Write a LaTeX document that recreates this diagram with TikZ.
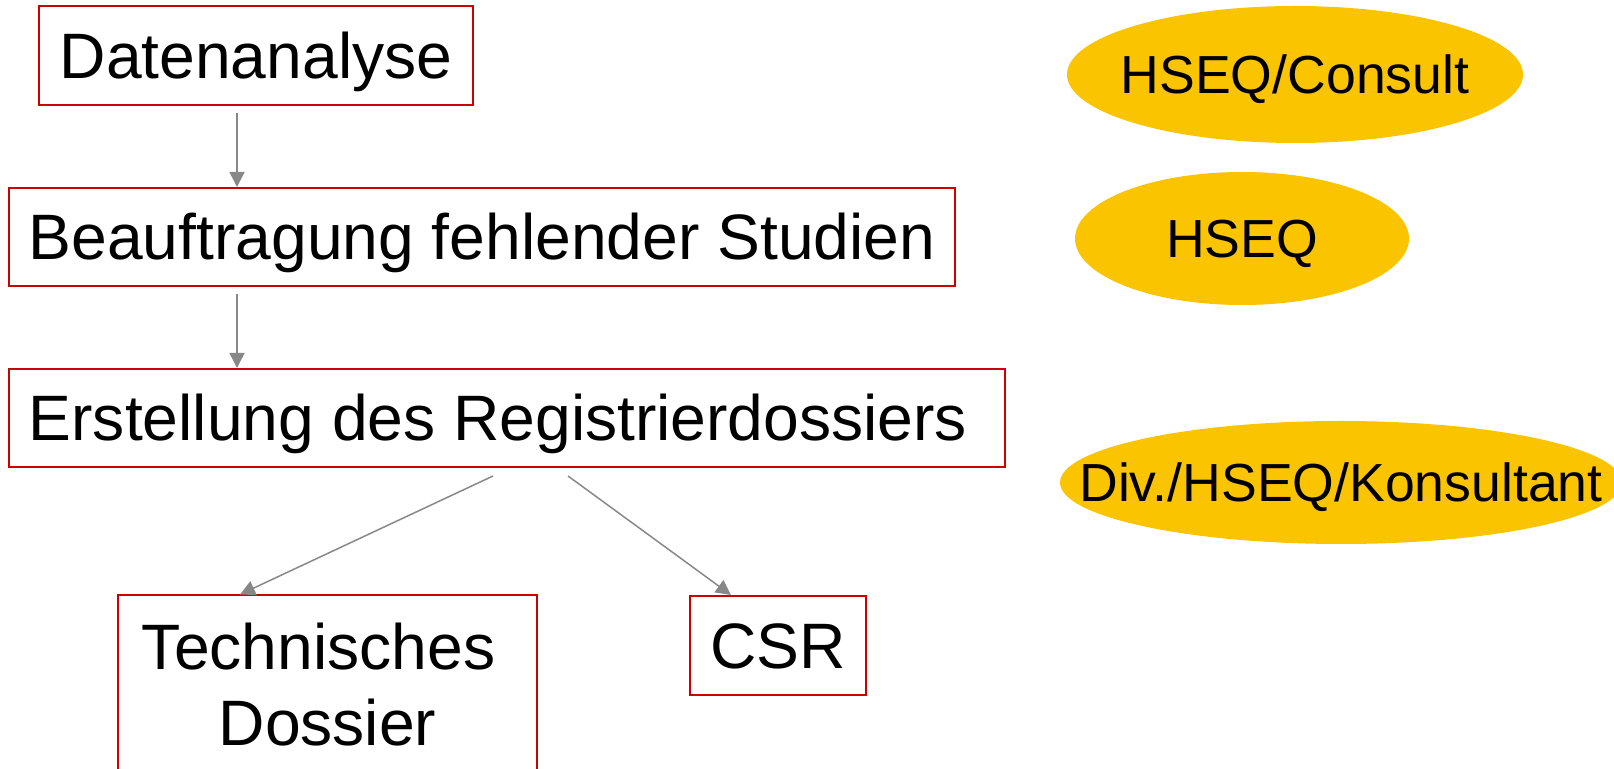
\documentclass[tikz,border=0pt]{standalone}
\usepackage{fontspec}
\setmainfont{Liberation Sans}
\usetikzlibrary{shapes.geometric,arrows.meta,calc}

\definecolor{kastenrot}{RGB}{204,0,0}
\definecolor{rollengelb}{RGB}{251,196,0}
\definecolor{pfeilgrau}{RGB}{136,136,136}

% Text ohne eigene Breite (Ellipse bleibt so gross wie angegeben)
\newcommand{\ohnebreite}[1]{\makebox[0pt][c]{#1}}

\tikzset{
  kasten/.style={draw=kastenrot, line width=1pt, inner sep=0pt,
    font=\fontsize{32.1pt}{38pt}\selectfont},
  zeile/.style={text height=23pt, text depth=0pt},
  rolle/.style={ellipse, fill=rollengelb, inner sep=0pt,
    text height=19.2pt, text depth=0pt,
    font=\fontsize{26.8pt}{32pt}\selectfont},
  pfeil/.style={draw=pfeilgrau, line width=0.75pt,
    -{Triangle[length=7.5pt,width=7.5pt]}}
}

\begin{document}
\begin{tikzpicture}[x=0.5pt,y=-0.5pt]
  \useasboundingbox (0,0) rectangle (1614,769);

  % Ablauf
  \node[kasten,zeile,minimum width=217pt,minimum height=49.5pt] (daten) at (256,55.5) {Datenanalyse};
  \node[kasten,zeile,minimum width=473pt,minimum height=49pt] (beauf) at (482,237) {Beauftragung fehlender Studien};
  \node[kasten,zeile,minimum width=498pt,minimum height=49pt] (erst) at (507,418) {Erstellung des Registrierdossiers\kern9pt};
  \node[kasten,align=center,minimum width=209.5pt,minimum height=89.5pt] (tech) at (327.5,685) {Technisches\kern0.278em\\Dossier};
  \node[kasten,zeile,minimum width=88pt,minimum height=49.5pt] (csr) at (778,645.5) {CSR};

  % Pfeile
  \draw[pfeil] ($(daten.south)+(-19,7)$) coordinate (a1) -- (a1 |- beauf.north);
  \draw[pfeil] ($(beauf.south)+(-245,7)$) coordinate (a2) -- (a2 |- erst.north);
  \draw[pfeil] ($(erst.south)+(-14,8)$) -- ($(tech.north)+(-87.5,0)$);
  \draw[pfeil] ($(erst.south)+(61,8)$) -- ($(csr.north)+(-47,0)$);

  % Zustaendigkeiten
  \node[rolle,minimum width=228pt,minimum height=68.5pt] (consult) at (1295,74.5) {\ohnebreite{HSEQ/Consult}};
  \node[rolle,minimum width=167pt,minimum height=66.5pt] (hseq) at (1242,238.5) {\ohnebreite{HSEQ}};
  \node[rolle,minimum width=281pt,minimum height=61.5pt] (div) at (1341,482.5) {\ohnebreite{Div./HSEQ/Konsultant}};
\end{tikzpicture}
\end{document}
